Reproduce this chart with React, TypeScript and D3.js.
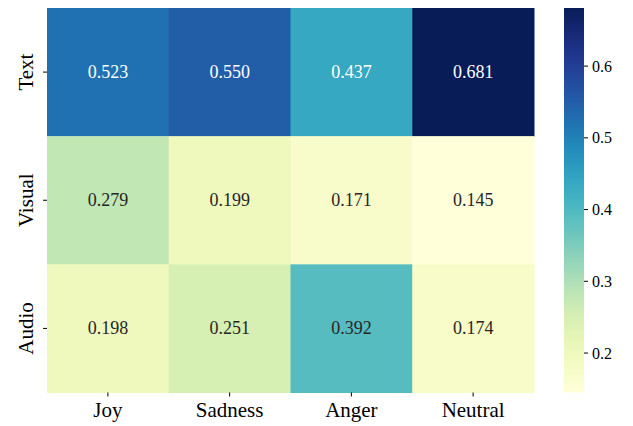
import React from "react";
import * as d3 from "d3";

const rows = ["Text", "Visual", "Audio"];
const cols = ["Joy", "Sadness", "Anger", "Neutral"];
const textVals = [0.523, 0.55, 0.437, 0.681];
const visualVals = [0.279, 0.199, 0.171, 0.145];
const audioVals = [0.198, 0.251, 0.392, 0.174];
const cbTicks = [0.2, 0.3, 0.4, 0.5, 0.6];

const W = 633;
const H = 426;
const left = 47;
const top = 8;
const right = 534;
const bottom = 392.5;
const cbX0 = 564;
const cbX1 = 584;
const FONT = "'Liberation Serif', 'Times New Roman', serif";

function lum(c: string) {
  const rgb = d3.rgb(c);
  const f = (v: number) => {
    const s = v / 255;
    return s <= 0.03928 ? s / 12.92 : Math.pow((s + 0.055) / 1.055, 2.4);
  };
  return 0.2126 * f(rgb.r) + 0.7152 * f(rgb.g) + 0.0722 * f(rgb.b);
}

export default function App() {
  const matrix = [textVals, visualVals, audioVals];
  const all = matrix.flat();
  const vmin = d3.min(all)!;
  const vmax = d3.max(all)!;
  const color = d3.scaleSequential(d3.interpolateYlGnBu).domain([vmin, vmax]);
  const x = d3.scaleBand().domain(cols).range([left, right]);
  const y = d3.scaleBand().domain(rows).range([top, bottom]);
  const cy = d3.scaleLinear().domain([vmin, vmax]).range([bottom, top]);
  const stops = d3.range(0, 1.0001, 0.05);

  return (
    <svg width={W} height={H} style={{ position: "absolute", left: 0, top: 0 }}>
      <defs>
        <linearGradient id="cbgrad" x1="0" y1="1" x2="0" y2="0">
          {stops.map((t) => (
            <stop key={t} offset={t} stopColor={d3.interpolateYlGnBu(t)} />
          ))}
        </linearGradient>
      </defs>
      {matrix.map((rowVals, i) =>
        rowVals.map((v, j) => {
          const c = color(v);
          const tc = lum(c) > 0.408 ? "#262626" : "#ffffff";
          return (
            <g key={`${i}-${j}`}>
              <rect
                x={x(cols[j])!}
                y={y(rows[i])!}
                width={x.bandwidth() + 0.5}
                height={y.bandwidth() + 0.5}
                fill={c}
              />
              <text
                x={x(cols[j])! + x.bandwidth() / 2}
                y={y(rows[i])! + y.bandwidth() / 2}
                textAnchor="middle"
                dominantBaseline="central"
                fontFamily={FONT}
                fontSize={18}
                fill={tc}
              >
                {v.toFixed(3)}
              </text>
            </g>
          );
        })
      )}
      {cols.map((c) => (
        <g key={c}>
          <line
            x1={x(c)! + x.bandwidth() / 2}
            x2={x(c)! + x.bandwidth() / 2}
            y1={bottom}
            y2={bottom + 4}
            stroke="#000"
            strokeWidth={1}
          />
          <text
            x={x(c)! + x.bandwidth() / 2}
            y={bottom + 24}
            textAnchor="middle"
            fontFamily={FONT}
            fontSize={21}
            fill="#000"
          >
            {c}
          </text>
        </g>
      ))}
      {rows.map((r) => {
        const yc = y(r)! + y.bandwidth() / 2;
        return (
          <g key={r}>
            <line x1={left - 4} x2={left} y1={yc} y2={yc} stroke="#000" strokeWidth={1} />
            <text
              transform={`translate(${left - 14},${yc}) rotate(-90)`}
              textAnchor="middle"
              fontFamily={FONT}
              fontSize={21}
              fill="#000"
            >
              {r}
            </text>
          </g>
        );
      })}
      <rect x={cbX0} y={top} width={cbX1 - cbX0} height={bottom - top} fill="url(#cbgrad)" />
      {cbTicks.map((t) => (
        <g key={t}>
          <line x1={cbX1} x2={cbX1 + 4} y1={cy(t)} y2={cy(t)} stroke="#000" strokeWidth={1} />
          <text
            x={cbX1 + 8}
            y={cy(t)}
            dominantBaseline="central"
            fontFamily={FONT}
            fontSize={16}
            fill="#000"
          >
            {t.toFixed(1)}
          </text>
        </g>
      ))}
    </svg>
  );
}
